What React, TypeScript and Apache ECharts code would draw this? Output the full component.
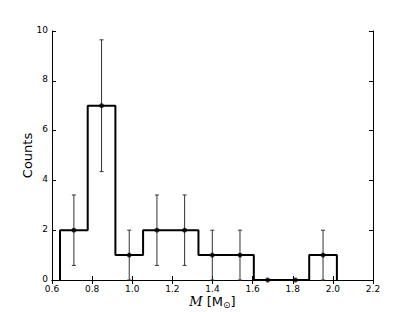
import React, { useEffect, useRef } from "react";
import * as echarts from "echarts";

const binEdges = [0.64, 0.778, 0.916, 1.054, 1.192, 1.33, 1.468, 1.606, 1.744, 1.882, 2.02];
const binCenters = [0.709, 0.847, 0.985, 1.123, 1.261, 1.399, 1.537, 1.675, 1.813, 1.951];
const counts = [2, 7, 1, 2, 2, 1, 1, 0, 0, 1];
const errLow = [0.586, 4.354, 0, 0.586, 0.586, 0, 0, 0, 0, 0];
const errHigh = [3.414, 9.646, 2, 3.414, 3.414, 2, 2, 0, 0, 2];
const xTicks = [0.6, 0.8, 1.0, 1.2, 1.4, 1.6, 1.8, 2.0, 2.2];
const yTicks = [0, 2, 4, 6, 8, 10];

export default function App() {
  const ref = useRef<HTMLDivElement>(null);
  useEffect(() => {
    if (!ref.current) return;
    const chart = echarts.init(ref.current, null, { renderer: "svg" });

    // step outline built from edges and counts
    const stepData: number[][] = [];
    stepData.push([binEdges[0], 0]);
    for (let i = 0; i < counts.length; i++) {
      stepData.push([binEdges[i], counts[i]]);
      stepData.push([binEdges[i + 1], counts[i]]);
    }
    stepData.push([binEdges[binEdges.length - 1], 0]);

    const errData = binCenters.map((c, i) => [c, errLow[i], errHigh[i]]);
    const pts = binCenters.map((c, i) => [c, counts[i]]);

    const font = "DejaVu Sans";
    const axisCommon = {
      axisLine: { show: true, lineStyle: { color: "#000", width: 1 } },
      axisTick: { show: true, inside: true, length: 4, lineStyle: { color: "#000", width: 1 } },
      splitLine: { show: false },
    };

    chart.setOption({
      animation: false,
      backgroundColor: "#fff",
      grid: { left: 52, top: 31, right: 42, bottom: 32, containLabel: false },
      xAxis: [
        {
          type: "value",
          min: 0.6,
          max: 2.2,
          interval: 0.2,
          position: "bottom",
          ...axisCommon,
          axisLabel: {
            color: "#000",
            fontFamily: font,
            fontSize: 9,
            margin: 4,
            formatter: (v: number) => {
              const t = xTicks.find((x) => Math.abs(x - v) < 1e-6);
              return t === undefined ? "" : t.toFixed(1);
            },
          },
        },
        {
          type: "value",
          min: 0.6,
          max: 2.2,
          interval: 0.2,
          position: "top",
          ...axisCommon,
          axisLabel: { show: false },
        },
      ],
      yAxis: [
        {
          type: "value",
          min: 0,
          max: 10,
          interval: 2,
          position: "left",
          ...axisCommon,
          axisLabel: {
            color: "#000",
            fontFamily: font,
            fontSize: 9,
            margin: 4,
            verticalAlign: "bottom",
            lineHeight: 9,
            padding: [0, 0, -3, 0],
            formatter: (v: number) => {
              const t = yTicks.find((y) => Math.abs(y - v) < 1e-6);
              return t === undefined ? "" : String(t);
            },
          },
        },
        {
          type: "value",
          min: 0,
          max: 10,
          interval: 2,
          position: "right",
          ...axisCommon,
          axisLabel: { show: false },
        },
      ],
      series: [
        {
          type: "line",
          data: stepData,
          symbol: "none",
          lineStyle: { color: "#000", width: 2 },
          z: 3,
        },
        {
          type: "custom",
          data: errData,
          z: 4,
          renderItem: (params: any, api: any) => {
            const x = api.value(0);
            const lo = api.coord([x, api.value(1)]);
            const hi = api.coord([x, api.value(2)]);
            if (Math.abs(lo[1] - hi[1]) < 0.5) return { type: "group", children: [] };
            const style = { stroke: "#333", lineWidth: 1 };
            const cap = 2;
            return {
              type: "group",
              children: [
                { type: "line", shape: { x1: lo[0], y1: lo[1], x2: hi[0], y2: hi[1] }, style },
                { type: "line", shape: { x1: lo[0] - cap, y1: lo[1], x2: lo[0] + cap, y2: lo[1] }, style },
                { type: "line", shape: { x1: hi[0] - cap, y1: hi[1], x2: hi[0] + cap, y2: hi[1] }, style },
              ],
            };
          },
        },
        {
          type: "scatter",
          data: pts,
          symbol: "circle",
          symbolSize: 5,
          itemStyle: { color: "#000" },
          z: 5,
        },
      ],
      graphic: [
        {
          type: "text",
          x: 27,
          y: 155.5,
          rotation: Math.PI / 2,
          style: {
            text: "Counts",
            fontFamily: font,
            fontSize: 13,
            fill: "#000",
            align: "center",
            verticalAlign: "middle",
          },
        },
        {
          type: "text",
          x: 212.5,
          y: 294,
          style: {
            text: "{i|M} [M{s|⊙}]",
            fontFamily: font,
            fontSize: 13,
            fill: "#000",
            align: "center",
            verticalAlign: "top",
            rich: {
              i: { fontFamily: "DejaVu Serif", fontStyle: "italic", fontSize: 13, fill: "#000" },
              s: { fontFamily: font, fontSize: 9, fill: "#000", padding: [6, 0, 0, 0] },
            },
          },
        },
      ],
    });
    return () => chart.dispose();
  }, []);
  return (
    <div
      ref={ref}
      style={{ position: "fixed", left: 0, top: 0, width: 415, height: 312 }}
    />
  );
}
